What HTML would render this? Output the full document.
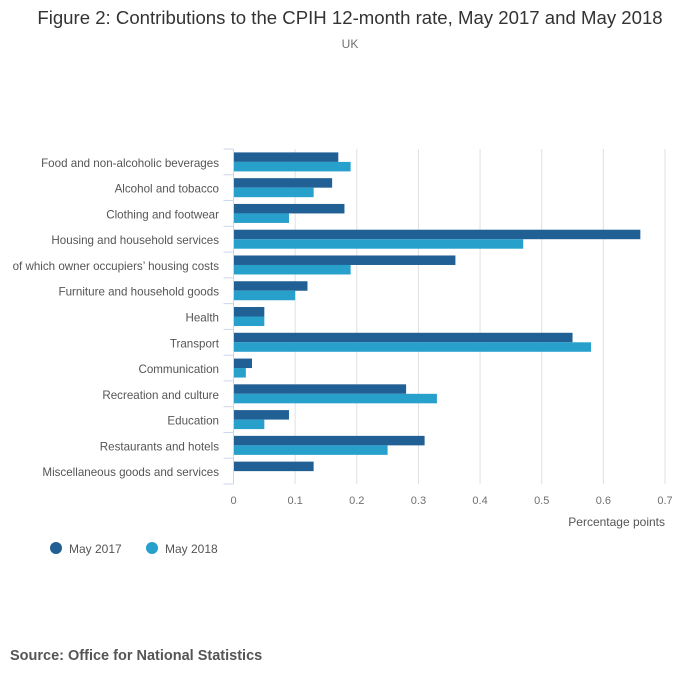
<!DOCTYPE html>
<html><head><meta charset="utf-8"><style>
body{margin:0;background:#fff;font-family:"Liberation Sans","DejaVu Sans",sans-serif;}
</style></head><body>
<svg id="chart" width="700" height="682" viewBox="0 0 700 682" xmlns="http://www.w3.org/2000/svg">
<text x="350" y="24" text-anchor="middle" font-size="18.6" fill="#333">Figure 2: Contributions to the CPIH 12-month rate, May 2017 and May 2018</text>
<text x="350" y="48" text-anchor="middle" font-size="12" fill="#707070">UK</text>
<g id="grid"></g><g id="bars"></g><g id="yaxis"></g><g id="xaxis"></g>
<text x="665" y="526" text-anchor="end" font-size="12" fill="#555">Percentage points</text>
<g>
<circle cx="56" cy="548" r="6" fill="#206095"/>
<text x="69" y="553" font-size="12" fill="#555">May 2017</text>
<circle cx="152" cy="548" r="6" fill="#27a0cc"/>
<text x="165" y="553" font-size="12" fill="#555">May 2018</text>
</g>
<text x="10" y="660" font-size="14.5" font-weight="bold" fill="#555">Source: Office for National Statistics</text>
</svg>
<script>
const categories=["Food and non-alcoholic beverages","Alcohol and tobacco","Clothing and footwear","Housing and household services","of which owner occupiers’ housing costs","Furniture and household goods","Health","Transport","Communication","Recreation and culture","Education","Restaurants and hotels","Miscellaneous goods and services"];
const may2017=[0.17,0.16,0.18,0.66,0.36,0.12,0.05,0.55,0.03,0.28,0.09,0.31,0.13];
const may2018=[0.19,0.13,0.09,0.47,0.19,0.10,0.05,0.58,0.02,0.33,0.05,0.25,0];
const xTicks=[0,0.1,0.2,0.3,0.4,0.5,0.6,0.7];
const NS="http://www.w3.org/2000/svg";
const x0=233.5,x1=665,yTop=149,yBot=484,xmax=0.7;
const xs=v=>x0+v/xmax*(x1-x0);
const band=(yBot-yTop)/categories.length;
const ys=i=>yTop+i*band;
function mk(tag,attrs,parent){const e=document.createElementNS(NS,tag);for(const k in attrs)e.setAttribute(k,attrs[k]);document.getElementById(parent).appendChild(e);return e;}
xTicks.forEach((t,i)=>{
 const l=mk('line',{x1:xs(t),x2:xs(t),y1:yTop,y2:yBot,stroke:'#e0e0e0','stroke-width':1},'grid');
 
 
 const tx=mk('text',{x:xs(t),y:504,'text-anchor':'middle','font-size':11,fill:'#707070'},'xaxis');
 tx.textContent=String(t);
 
 
});
const ax=mk('line',{x1:x0,x2:x0,y1:yTop,y2:yBot,stroke:'#ccd6eb','stroke-width':1},'yaxis');


for(let i=0;i<=categories.length;i++){
 const t=mk('line',{x1:x0-10,x2:x0,y1:ys(i),y2:ys(i),stroke:'#ccd6eb','stroke-width':1},'yaxis');
 
 
}
categories.forEach((c,i)=>{
 const t=mk('text',{x:219,y:ys(i)+band/2+5,'text-anchor':'end','font-size':11.6,fill:'#555'},'yaxis');
 t.textContent=c;
 
 
 const b1=mk('rect',{x:x0,y:ys(i)+3.4,width:Math.max(0,xs(may2017[i])-x0),height:9.5,fill:'#206095'},'bars');
 
 
 const b2=mk('rect',{x:x0,y:ys(i)+12.9,width:Math.max(0,xs(may2018[i])-x0),height:9.5,fill:'#27a0cc'},'bars');
 
 
});
</script>
</body></html>
